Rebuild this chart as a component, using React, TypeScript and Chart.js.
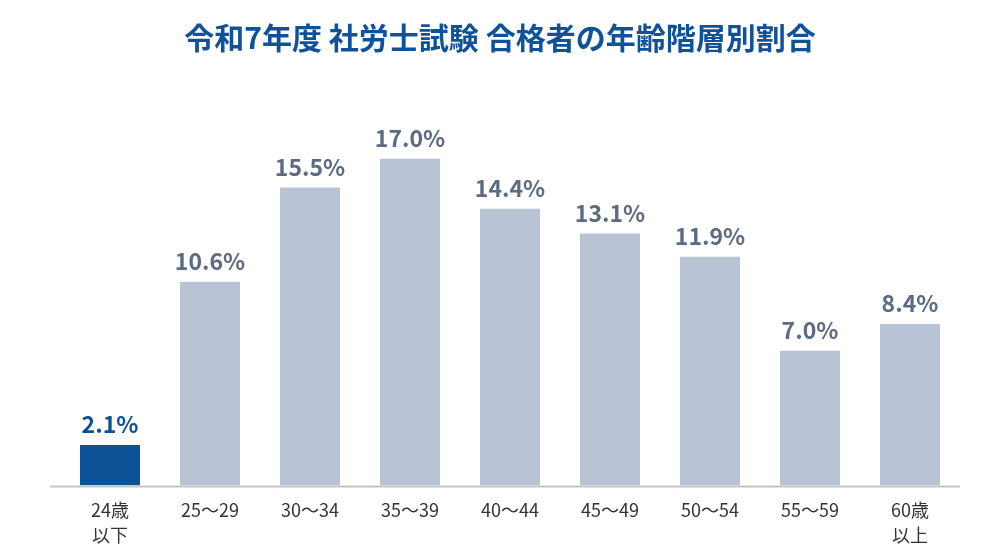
import { Chart, registerables } from "chart.js";
import React, { useEffect, useRef } from "react";

Chart.register(...registerables);

const titleText = "令和7年度 社労士試験 合格者の年齢階層別割合";
const categories: (string | string[])[] = [
  ["24歳", "以下"],
  "25〜29",
  "30〜34",
  "35〜39",
  "40〜44",
  "45〜49",
  "50〜54",
  "55〜59",
  ["60歳", "以上"],
];
const shares = [2.1, 10.6, 15.5, 17.0, 14.4, 13.1, 11.9, 7.0, 8.4];
const highlightIndex = 0;

const FONT = "'Noto Sans CJK JP', 'Noto Sans', sans-serif";
const DARK = "#0b5196";
const LIGHT = "#b8c4d6";
const LABEL_GRAY = "#5b6b83";

// draws the percent value above each bar
const valueLabels = {
  id: "valueLabels",
  afterDatasetsDraw(chart: Chart) {
    const ctx = chart.ctx;
    const meta = chart.getDatasetMeta(0);
    ctx.save();
    ctx.font = `bold 23px ${FONT}`;
    ctx.textAlign = "center";
    ctx.textBaseline = "bottom";
    meta.data.forEach((bar: any, i: number) => {
      ctx.fillStyle = i === highlightIndex ? DARK : LABEL_GRAY;
      ctx.fillText(shares[i].toFixed(1) + "%", bar.x, bar.y - 9);
    });
    ctx.restore();
  },
};

// baseline a bit wider than the plot area, plus a title centred on the page
const decorations = {
  id: "decorations",
  afterDatasetsDraw(chart: Chart) {
    const { ctx, chartArea } = chart;
    ctx.save();
    ctx.strokeStyle = "#c4c4c4";
    ctx.lineWidth = 2;
    ctx.beginPath();
    ctx.moveTo(chartArea.left - 10, chartArea.bottom + 1);
    ctx.lineTo(chartArea.right, chartArea.bottom + 1);
    ctx.stroke();

    ctx.font = `bold 30px ${FONT}`;
    ctx.fillStyle = "#10529a";
    ctx.textAlign = "center";
    ctx.textBaseline = "middle";
    ctx.fillText(titleText, chart.width / 2, 38);
    ctx.restore();
  },
};

const App: React.FC = () => {
  const chartRef = useRef<HTMLCanvasElement>(null);

  useEffect(() => {
    if (!chartRef.current) return;
    const chart = new Chart(chartRef.current, {
      type: "bar",
      data: {
        labels: categories,
        datasets: [
          {
            data: shares,
            backgroundColor: shares.map((_, i) => (i === highlightIndex ? DARK : LIGHT)),
            barPercentage: 0.6,
            categoryPercentage: 1,
          },
        ],
      },
      options: {
        animation: false,
        responsive: true,
        maintainAspectRatio: false,
        layout: { padding: { left: 60, right: 40, top: 101, bottom: 8 } },
        scales: {
          x: {
            grid: { display: false },
            border: { display: false },
            ticks: {
              color: "#333333",
              font: { family: FONT, size: 18, lineHeight: 1.35 },
              padding: 5,
              maxRotation: 0,
            },
          },
          y: {
            display: false,
            min: 0,
            max: 20,
          },
        },
        plugins: {
          legend: { display: false },
          tooltip: { enabled: false },
          title: { display: false },
        },
      },
      plugins: [valueLabels, decorations],
    });
    return () => {
      chart.destroy();
    };
  }, []);

  return (
    <div style={{ position: "absolute", left: 0, top: 0, width: 1000, height: 560, background: "#fff" }}>
      <canvas ref={chartRef} />
    </div>
  );
};

export default App;
